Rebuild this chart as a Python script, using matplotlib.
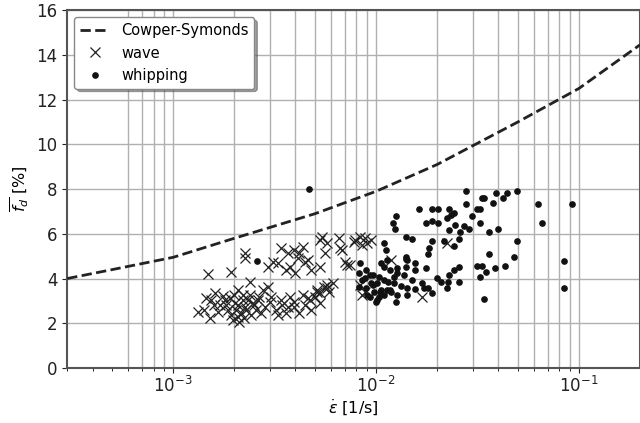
import numpy as np
import matplotlib.pyplot as plt

# Cowper-Symonds curve
cs_rate = [3e-4, 5e-4, 1e-3, 2e-3, 5e-3, 1e-2, 2e-2, 5e-2, 1e-1, 2e-1]
cs_fd = [4.0, 4.4, 4.95, 5.8, 6.9, 7.9, 9.1, 11.0, 12.5, 14.45]

# wave-induced events
wave_rate = [
    1.41e-3, 1.54e-3, 1.61e-3, 1.70e-3, 1.79e-3, 1.86e-3, 1.92e-3, 2.01e-3, 2.03e-3, 2.08e-3,
    2.15e-3, 2.25e-3, 2.33e-3, 2.47e-3, 2.55e-3, 2.64e-3, 2.76e-3, 2.83e-3, 2.92e-3, 3.02e-3,
    3.20e-3, 3.38e-3, 3.58e-3, 3.66e-3, 3.92e-3, 1.45e-3, 1.58e-3, 1.66e-3, 1.76e-3, 1.90e-3,
    1.97e-3, 2.08e-3, 2.12e-3, 2.20e-3, 2.23e-3, 2.28e-3, 2.38e-3, 2.41e-3, 2.50e-3, 2.61e-3,
    2.70e-3, 1.82e-3, 1.99e-3, 1.33e-3, 1.52e-3, 1.49e-3, 1.92e-3, 2.25e-3, 2.25e-3, 2.38e-3,
    2.08e-3, 2.20e-3, 2.92e-3, 3.09e-3, 3.27e-3, 3.41e-3, 3.66e-3, 3.78e-3, 3.92e-3, 3.97e-3,
    4.19e-3, 4.10e-3, 4.35e-3, 4.44e-3, 4.59e-3, 4.75e-3, 5.31e-3, 5.44e-3, 5.26e-3, 5.75e-3,
    5.62e-3, 6.60e-3, 6.67e-3, 7.00e-3, 7.40e-3, 7.80e-3, 8.30e-3, 8.80e-3, 9.04e-3, 8.50e-3,
    9.40e-3, 6.80e-3, 7.20e-3, 7.90e-3, 1.18e-2, 2.23e-2, 8.30e-3, 8.50e-3, 1.68e-2, 3.58e-3,
    3.78e-3, 3.92e-3, 4.19e-3, 4.44e-3, 4.70e-3, 4.97e-3, 5.14e-3, 5.31e-3, 5.55e-3, 5.75e-3,
    5.87e-3, 4.75e-3, 5.26e-3, 4.35e-3, 4.59e-3, 5.14e-3, 5.75e-3, 6.10e-3, 3.45e-3, 3.27e-3,
    2.99e-3, 8.80e-3,
]
wave_fd = [
    2.59, 3.04, 3.35, 2.82, 3.04, 2.59, 2.37, 2.91, 2.59, 2.28,
    2.46, 2.73, 3.04, 2.91, 2.59, 3.17, 3.49, 2.73, 3.62, 3.17,
    2.59, 3.04, 2.46, 2.73, 2.95, 3.13, 2.82, 2.50, 3.22, 3.13,
    2.15, 2.82, 2.06, 3.04, 2.23, 2.59, 3.26, 2.37, 2.82, 3.04,
    2.46, 2.82, 3.26, 2.50, 2.23, 4.20, 4.29, 5.14, 4.92, 3.84,
    3.49, 3.26, 4.51, 4.74, 4.69, 5.36, 5.14, 4.51, 5.27, 4.25,
    5.14, 4.92, 5.41, 4.74, 4.83, 4.38, 4.51, 5.85, 5.72, 5.59,
    5.14, 5.81, 5.36, 4.74, 4.60, 5.63, 5.85, 5.81, 5.59, 5.50,
    5.72, 5.27, 4.60, 5.72, 4.83, 5.59, 3.71, 3.26, 3.17, 4.38,
    3.17, 2.73, 2.46, 2.82, 3.04, 3.17, 3.49, 3.35, 3.62, 3.71,
    3.40, 2.59, 2.91, 3.26, 3.13, 3.40, 3.58, 3.80, 2.82, 2.37,
    2.95, 3.40,
]

# whipping events
whip_rate = [
    4.65e-3, 2.58e-3, 2.76e-2, 3.31e-2, 3.39e-2, 3.92e-2, 4.24e-2, 4.44e-2, 3.79e-2, 4.96e-2,
    6.30e-2, 9.20e-2, 6.60e-2, 8.40e-2, 8.40e-2, 4.96e-2, 4.80e-2, 4.30e-2, 3.85e-2, 3.60e-2,
    3.50e-2, 3.25e-2, 3.13e-2, 3.31e-2, 3.42e-2, 3.60e-2, 4.00e-2, 3.25e-2, 3.13e-2, 3.25e-2,
    2.76e-2, 2.97e-2, 2.86e-2, 2.72e-2, 2.60e-2, 2.46e-2, 2.30e-2, 2.57e-2, 2.41e-2, 2.16e-2,
    2.28e-2, 2.41e-2, 2.35e-2, 2.03e-2, 1.89e-2, 2.03e-2, 1.89e-2, 1.76e-2, 2.23e-2, 1.89e-2,
    1.83e-2, 1.80e-2, 1.76e-2, 1.62e-2, 1.25e-2, 1.21e-2, 1.24e-2, 1.41e-2, 1.51e-2, 1.10e-2,
    1.12e-2, 1.56e-2, 1.56e-2, 1.40e-2, 1.41e-2, 2.10e-2, 2.25e-2, 2.30e-2, 2.41e-2, 2.57e-2,
    2.55e-2, 2.23e-2, 1.56e-2, 1.72e-2, 1.80e-2, 1.89e-2, 1.25e-2, 1.42e-2, 1.27e-2, 1.01e-2,
    9.30e-3, 1.13e-2, 1.42e-2, 1.32e-2, 8.30e-3, 8.20e-3, 8.80e-3, 9.30e-3, 9.70e-3, 1.03e-2,
    9.40e-3, 1.01e-2, 1.09e-2, 1.15e-2, 1.22e-2, 1.27e-2, 1.37e-2, 1.42e-2, 1.40e-2, 1.10e-2,
    1.17e-2, 1.27e-2, 1.06e-2, 1.13e-2, 8.90e-3, 9.80e-3, 1.06e-2, 1.19e-2, 1.10e-2, 9.00e-3,
    1.03e-2, 8.90e-3, 8.20e-3, 9.60e-3, 1.04e-2, 1.22e-2, 1.17e-2, 1.00e-2, 8.50e-3, 1.99e-2,
    1.68e-2, 1.51e-2,
]
whip_fd = [
    8.00, 4.78, 7.91, 7.60, 7.60, 7.82, 7.60, 7.82, 7.37, 7.91,
    7.33, 7.33, 6.48, 4.78, 3.58, 5.68, 4.96, 4.56, 4.47, 5.10,
    4.29, 4.07, 4.56, 4.56, 3.08, 6.08, 6.21, 6.48, 7.11, 7.11,
    7.33, 6.79, 6.21, 6.35, 6.08, 6.39, 6.17, 5.77, 5.45, 5.68,
    7.11, 6.93, 6.84, 7.11, 7.11, 6.48, 6.57, 6.48, 6.70, 5.68,
    5.36, 5.10, 4.47, 7.11, 6.79, 6.48, 6.21, 5.85, 5.77, 5.59,
    5.27, 4.69, 4.38, 4.96, 4.87, 3.84, 3.84, 4.16, 4.38, 4.51,
    3.84, 3.58, 3.53, 3.58, 3.58, 3.35, 2.95, 3.26, 3.26, 3.04,
    3.17, 3.49, 3.58, 3.66, 4.69, 4.25, 4.02, 4.16, 4.16, 4.07,
    3.80, 3.80, 3.93, 3.84, 4.07, 4.25, 4.16, 4.83, 4.51, 4.51,
    4.38, 4.47, 4.69, 4.83, 3.58, 3.40, 3.49, 3.40, 3.26, 3.26,
    3.17, 4.38, 3.62, 3.71, 3.40, 3.80, 3.49, 2.95, 3.93, 4.02,
    3.80, 3.93,
]

fig = plt.figure(figsize=(6.4, 4.23), dpi=100)
ax = fig.add_axes([0.105, 0.130, 0.895, 0.846])

ax.plot(cs_rate, cs_fd, color="#222222", ls="--", lw=2.0, label="Cowper-Symonds", zorder=3)
ax.plot(wave_rate, wave_fd, ls="none", marker="x", ms=6.5, mew=0.9, color="#222222",
        label="wave", zorder=2)
ax.plot(whip_rate, whip_fd, ls="none", marker="o", ms=3.8, color="#111111",
        label="whipping", zorder=2)

ax.set_xscale("log")
ax.set_xlim(3e-4, 2e-1)
ax.set_ylim(0, 16)
ax.set_yticks(np.arange(0, 17, 2))
ax.grid(True, which="both", color="#b0b0b0", lw=1.0)
ax.set_axisbelow(True)

ax.set_xlabel(r"$\dot{\varepsilon}$ [1/s]", fontsize=11.5, labelpad=1)
ax.set_ylabel(r"$\overline{f_d}$ [%]", fontsize=11.5)
ax.tick_params(labelsize=12, colors="#222222")
ax.tick_params(axis="x", pad=2.5)
for sp in ax.spines.values():
    sp.set_color("#555555")
    sp.set_linewidth(1.5)

ax.legend(loc="upper left", fontsize=10.5, shadow=True, framealpha=1.0,
          edgecolor="#888888")

# no grid on the first minor ticks
fig.canvas.draw()
for loc, t in zip(ax.xaxis.get_minorticklocs(), ax.xaxis.get_minor_ticks()):
    if loc < 5.5e-4:
        t.gridline.set_visible(False)

fig.savefig("out.png", dpi=100)
plt.close()
